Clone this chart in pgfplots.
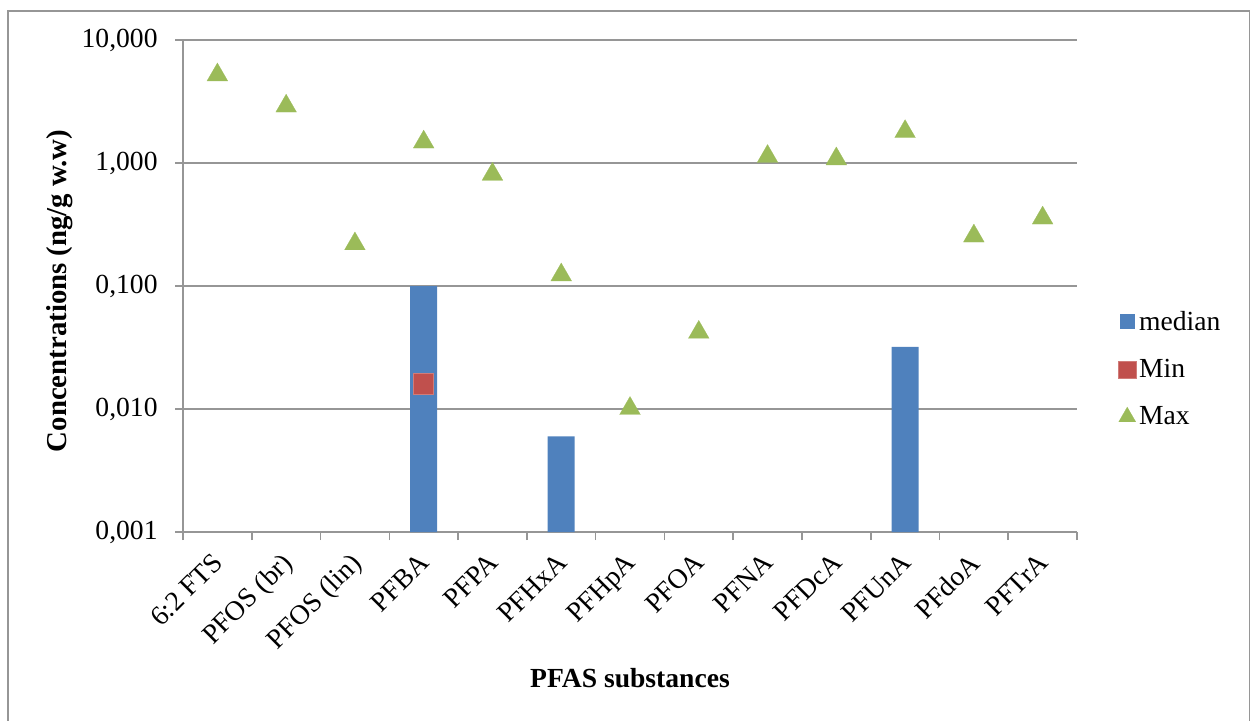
\documentclass[border=0pt]{standalone}
\usepackage{pgfplots}
\pgfplotsset{compat=1.18}
\usepackage{fontspec}
\setmainfont{Liberation Serif}
\definecolor{xlblue}{HTML}{4F81BD}
\definecolor{xlred}{HTML}{C0504D}
\definecolor{xlgreen}{HTML}{9BBB59}
\definecolor{xlgray}{HTML}{969696}
\begin{document}
\begin{tikzpicture}
\useasboundingbox (0,0) rectangle (625.5pt,360pt);
\draw[xlgray, line width=0.75pt] (4pt,-5pt) -- (4pt,354.5pt) -- (624.8pt,354.5pt) -- (624.8pt,-5pt);
\begin{axis}[
  at={(91.5pt,94pt)}, anchor=south west,
  scale only axis, width=447pt, height=246pt,
  ymode=log, ymin=0.001, ymax=10, log origin y=infty,
  yminorticks=false,
  xmin=-0.5, xmax=12.5,
  xtick={-0.5,0.5,...,12.5},
  x tick label as interval,
  xticklabels={6:2 FTS,PFOS (br),PFOS (lin),PFBA,PFPA,PFHxA,PFHpA,PFOA,PFNA,PFDcA,PFUnA,PFdoA,PFTrA},
  ytick={0.001,0.01,0.1,1,10},
  yticklabels={{0,001},{0,010},{0,100},{1,000},{10,000}},
  axis x line*=bottom, axis y line*=left,
  axis line style={xlgray, line width=0.8pt, -},
  tick align=outside, major tick length=4pt,
  tick style={xlgray, line width=0.8pt},
  ymajorgrids, major grid style={xlgray, line width=0.8pt},
  yticklabel style={font=\fontsize{13.8}{16}\selectfont, inner sep=2pt, xshift=-6.5pt},
  xticklabel style={font=\fontsize{13.8}{16}\selectfont, xshift=-2.9pt, yshift=-4pt, rotate=45, anchor=north east, inner sep=1pt},
  ylabel={Concentrations (ng/g w.w)},
  xlabel={PFAS substances},
  every axis y label/.style={at={(rel axis cs:-0.1376,0.49)}, rotate=90, anchor=center, font=\fontsize{14.4}{16}\selectfont\bfseries},
  every axis x label/.style={at={(rel axis cs:0.5,-0.297)}, anchor=center, font=\fontsize{13.8}{16}\selectfont\bfseries},
  legend style={at={(1.0459,0.331)}, anchor=west, draw=none, fill=none,
    font=\fontsize{13.8}{16}\selectfont, row sep=10pt, inner sep=0pt,
    nodes={inner sep=1.5pt}},
  legend cell align=left,
  clip=false,
]
\addplot[ybar, bar width=13.5pt, fill=xlblue, draw=none,
  legend image code/.code={\fill[xlblue] (0.5pt,-3.75pt) rectangle (8pt,3.75pt);}]
  coordinates {(3,0.1) (5,0.006) (10,0.032)};
\addlegendentry{median}
\addplot[only marks, color=xlred, mark=square*, mark size=5.1pt,
  mark options={fill=xlred, draw=xlred!75!white, line width=0.4pt},
  legend image code/.code={\draw[mark=square*, mark size=4.4pt, mark options={fill=xlred, draw=xlred!75!white, line width=0.4pt}] plot coordinates {(4.25pt,0pt)};}]
  coordinates {(3,0.016)};
\addlegendentry{Min}
\addplot[only marks, color=xlgreen, mark=triangle*, mark size=6pt,
  mark options={fill=xlgreen, draw=xlgreen, line width=0.1pt},
  legend image code/.code={\draw[mark=triangle*, mark size=4.9pt, mark options={fill=xlgreen, draw=xlgreen, line width=0.1pt}] plot coordinates {(4.25pt,0pt)};}]
  coordinates {(0,5.2) (1,2.9) (2,0.22) (3,1.48) (4,0.81) (5,0.123) (6,0.0101) (7,0.042) (8,1.13) (9,1.08) (10,1.8) (11,0.255) (12,0.357)};
\addlegendentry{Max}
\end{axis}
\end{tikzpicture}
\end{document}
